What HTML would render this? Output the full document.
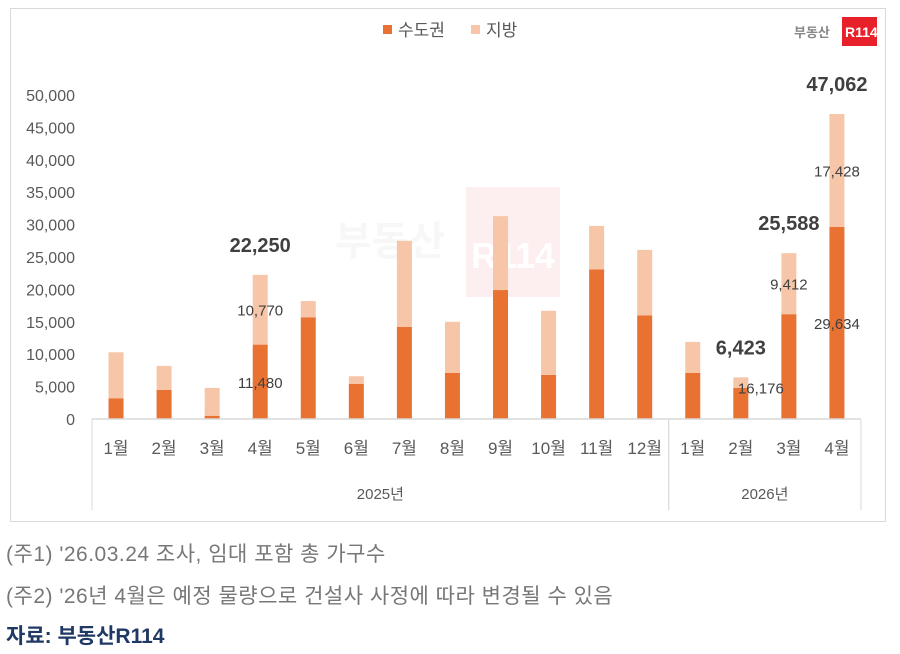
<!DOCTYPE html>
<html><head><meta charset="utf-8">
<style>
body{margin:0;width:900px;height:654px;background:#fff;font-family:"Liberation Sans","Noto Sans CJK KR",sans-serif;position:relative;overflow:hidden}
.note{position:absolute;left:6px;font-size:21px;color:#777;letter-spacing:0.5px}
</style></head><body>
<svg width="900" height="654" style="position:absolute;left:0;top:0">
<rect x="10.5" y="8.5" width="875" height="513" fill="#fff" stroke="#d9d9d9"/>
<g id="wm" opacity="0.07">
<text x="335" y="255" font-size="40" font-weight="bold" fill="#999" font-family="Liberation Sans,Noto Sans CJK KR,sans-serif">부동산</text>
<rect x="466" y="187" width="94" height="110" fill="#e8202a"/>
<text x="471" y="268" font-size="36" font-weight="bold" fill="#fff" font-family="Liberation Sans,sans-serif">R114</text>
</g>
<g id="legend">
<rect x="383" y="25" width="9" height="9" fill="#e97132"/>
<text x="398" y="36" font-size="17" fill="#595959">수도권</text>
<rect x="471" y="25" width="9" height="9" fill="#f7c5a8"/>
<text x="486" y="36" font-size="17" fill="#595959">지방</text>
</g>
<g>
<text x="794" y="37" font-size="13" font-weight="bold" fill="#888">부동산</text>
<rect x="842" y="17" width="35" height="29" fill="#e8202a"/>
<text x="845" y="37" font-size="14" font-weight="bold" fill="#fff">R114</text>
</g>
<g id="yaxis"></g><g id="bars"></g><g id="xaxis"></g><g id="labels"></g>
</svg>
<div class="note" style="top:538px">(주1) '26.03.24 조사, 임대 포함 총 가구수</div>
<div class="note" style="top:580px">(주2) '26년 4월은 예정 물량으로 건설사 사정에 따라 변경될 수 있음</div>
<div style="position:absolute;left:6px;top:620px;font-size:21px;font-weight:bold;color:#1f3864">자료: 부동산R114</div>
<script>
const categories=["1월","2월","3월","4월","5월","6월","7월","8월","9월","10월","11월","12월","1월","2월","3월","4월"];
const capital=[3200,4500,500,11480,15700,5400,14200,7100,19900,6800,23100,16000,7100,4800,16176,29634];
const local=[7100,3700,4300,10770,2500,1200,13300,7900,11400,9900,6700,10100,4800,1623,9412,17428];
const yTicks=[0,5000,10000,15000,20000,25000,30000,35000,40000,45000,50000];
const years=[{label:"2025년",start:0,end:12},{label:"2026년",start:12,end:16}];
const totalLabels=[3,13,14,15];
const NS="http://www.w3.org/2000/svg";
const y0=419,pxPer=324/50000,x0=92,step=48.06,bw=15;
const y=v=>y0-v*pxPer;
const xc=i=>x0+step*(i+0.5);
function mk(tag,attrs,parent,text){const e=document.createElementNS(NS,tag);for(const k in attrs)e.setAttribute(k,attrs[k]);if(text!==undefined)e.textContent=text;parent.appendChild(e);return e;}
const ya=document.getElementById('yaxis'),ba=document.getElementById('bars'),xa=document.getElementById('xaxis'),la=document.getElementById('labels');
yTicks.forEach(t=>{const e=mk('text',{x:75,y:y(t)+6,'font-size':16,fill:'#595959','text-anchor':'end'},ya,t.toLocaleString('en-US'));

});
categories.forEach((c,i)=>{
const r1=mk('rect',{x:xc(i)-bw/2,y:y(capital[i]),width:bw,height:capital[i]*pxPer,fill:'#e97132'},ba);


const r2=mk('rect',{x:xc(i)-bw/2,y:y(capital[i]+local[i]),width:bw,height:local[i]*pxPer,fill:'#f7c5a8'},ba);


const t=mk('text',{x:xc(i),y:454,'font-size':17,fill:'#595959','text-anchor':'middle'},xa,c);


});
mk('line',{x1:x0,y1:y0,x2:x0+step*16,y2:y0,stroke:'#d9d9d9','stroke-width':1.5},xa);
years.forEach(g=>{
mk('line',{x1:x0+step*g.start,y1:y0,x2:x0+step*g.start,y2:510,stroke:'#d9d9d9'},xa);
mk('line',{x1:x0+step*g.end,y1:y0,x2:x0+step*g.end,y2:510,stroke:'#d9d9d9'},xa);
const t=mk('text',{x:x0+step*(g.start+g.end)/2,y:499,'font-size':15,fill:'#595959','text-anchor':'middle'},xa,g.label);


});
totalLabels.forEach(i=>{
const tot=capital[i]+local[i];
const t=mk('text',{x:xc(i),y:y(tot)-23,'font-size':20,'font-weight':'bold',fill:'#404040','text-anchor':'middle'},la,tot.toLocaleString('en-US'));


const a=mk('text',{x:xc(i),y:y(capital[i]/2)+6,'font-size':15,fill:'#404040','text-anchor':'middle'},la,capital[i].toLocaleString('en-US'));


if(i===13)a.remove();
if(i===14){a.setAttribute('x',xc(i)-28);a.setAttribute('y',y(capital[i]*0.3)+6);}
const b=mk('text',{x:xc(i),y:y(capital[i]+local[i]/2)+6,'font-size':15,fill:'#404040','text-anchor':'middle'},la,local[i].toLocaleString('en-US'));


if(i===13)b.remove();
});
</script>
</body></html>
